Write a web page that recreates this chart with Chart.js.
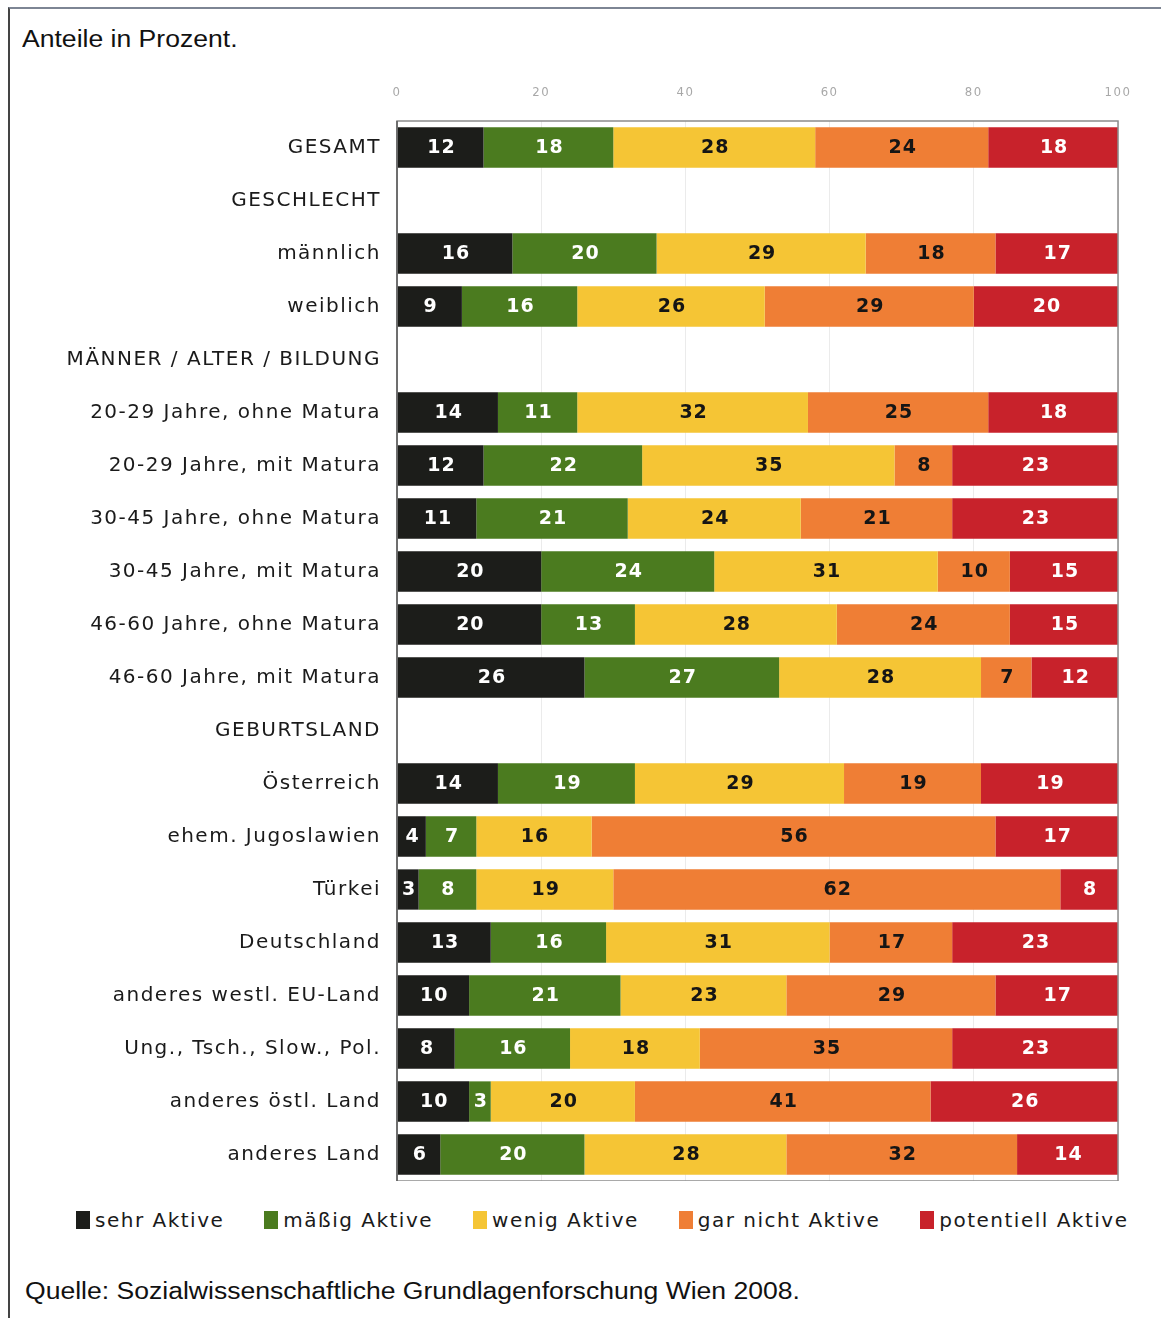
<!DOCTYPE html>
<html lang="de">
<head>
<meta charset="utf-8">
<title>Aktivitätsgruppen</title>
<script src="https://cdn.jsdelivr.net/npm/chart.js@4.4.1/dist/chart.umd.min.js"></script>
<style>
    html, body { margin: 0; padding: 0; background: #fff; }
    body {
        width: 1161px; height: 1318px;
        position: relative; overflow: hidden;
        font-family: "Liberation Sans", Arial, sans-serif;
        color: #111;
    }
    .frame {
        position: absolute; left: 8px; top: 7px; right: 0; bottom: 0;
        border-left: 2px solid #444;
        border-top: 2px solid #7d8594;
    }
    .note {
        position: absolute; font-size: 23.5px; white-space: nowrap;
        transform: scaleX(1.13); transform-origin: left center;
    }
    .title { left: 22px; top: 26px; }
    .source { left: 25px; top: 1278px; }
    .chart-box {
        position: absolute; left: 0; top: 71px;
        width: 1161px; height: 1110px;
    }
    .legend {
        position: absolute; left: 76px; top: 1208px;
        display: flex; align-items: center; gap: 40px;
        font-family: "DejaVu Sans", Verdana, sans-serif;
        font-size: 20px; letter-spacing: 1.5px; color: #1a1a1a;
    }
    .legend-item { display: flex; align-items: center; }
    .legend-box { width: 14px; height: 18px; margin-right: 5px; }
</style>
</head>
<body>
<div class="frame"></div>
<div class="note title">Anteile in Prozent.</div>

<div class="chart-box"><canvas id="activityChart"></canvas></div>

<div class="legend" id="legend"></div>
<div class="note source">Quelle: Sozialwissenschaftliche Grundlagenforschung Wien 2008.</div>

<script>
// ===== DATA =====
const categories = [
    'GESAMT',
    'GESCHLECHT',
    'männlich',
    'weiblich',
    'MÄNNER / ALTER / BILDUNG',
    '20-29 Jahre, ohne Matura',
    '20-29 Jahre, mit Matura',
    '30-45 Jahre, ohne Matura',
    '30-45 Jahre, mit Matura',
    '46-60 Jahre, ohne Matura',
    '46-60 Jahre, mit Matura',
    'GEBURTSLAND',
    'Österreich',
    'ehem. Jugoslawien',
    'Türkei',
    'Deutschland',
    'anderes westl. EU-Land',
    'Ung., Tsch., Slow., Pol.',
    'anderes östl. Land',
    'anderes Land'
];

const seriesNames = ['sehr Aktive', 'mäßig Aktive', 'wenig Aktive', 'gar nicht Aktive', 'potentiell Aktive'];

// header rows (GESCHLECHT, MÄNNER..., GEBURTSLAND) carry no bar
const sehrAktive       = [12, null, 16,  9, null, 14, 12, 11, 20, 20, 26, null, 14,  4,  3, 13, 10,  8, 10,  6];
const maessigAktive    = [18, null, 20, 16, null, 11, 22, 21, 24, 13, 27, null, 19,  7,  8, 16, 21, 16,  3, 20];
const wenigAktive      = [28, null, 29, 26, null, 32, 35, 24, 31, 28, 28, null, 29, 16, 19, 31, 23, 18, 20, 28];
const garNichtAktive   = [24, null, 18, 29, null, 25,  8, 21, 10, 24,  7, null, 19, 56, 62, 17, 29, 35, 41, 32];
const potentiellAktive = [18, null, 17, 20, null, 18, 23, 23, 15, 15, 12, null, 19, 17,  8, 23, 17, 23, 26, 14];

const xTicks = [0, 20, 40, 60, 80, 100];

const barColors   = ['#1c1d1a', '#4b7b1f', '#f5c535', '#ef7e35', '#c8222b'];
const labelColors = ['#ffffff', '#ffffff', '#151515', '#151515', '#ffffff'];

const series = [sehrAktive, maessigAktive, wenigAktive, garNichtAktive, potentiellAktive];

// ===== PLUGINS =====
// letter-spaced text like the original Verdana rendering
const spacing = {
    id: 'spacing',
    beforeDraw(chart) {
        chart.ctx.letterSpacing = '1.5px';
    }
};

// value inside every segment
const barLabels = {
    id: 'barLabels',
    afterDatasetsDraw(chart) {
        const ctx = chart.ctx;
        ctx.save();
        ctx.letterSpacing = '1px';
        ctx.font = 'bold 19px "DejaVu Sans", Verdana, sans-serif';
        ctx.textAlign = 'center';
        ctx.textBaseline = 'middle';
        chart.data.datasets.forEach((ds, i) => {
            chart.getDatasetMeta(i).data.forEach((bar, j) => {
                const v = ds.data[j];
                if (v == null) return;
                const { x, y, base } = bar.getProps(['x', 'y', 'base'], true);
                ctx.fillStyle = labelColors[i];
                ctx.fillText(String(v), (x + base) / 2 + 1, y + 1);
            });
        });
        ctx.restore();
    }
};

// grey frame around the plot area
const plotFrame = {
    id: 'plotFrame',
    afterDraw(chart) {
        const { ctx, chartArea: a } = chart;
        ctx.save();
        ctx.strokeStyle = '#8c8c8c';
        ctx.lineWidth = 1.5;
        ctx.strokeRect(a.left, a.top, a.right - a.left, a.bottom - a.top);
        ctx.strokeStyle = '#5c5c5c';
        ctx.beginPath();
        ctx.moveTo(a.left, a.top);
        ctx.lineTo(a.left, a.bottom);
        ctx.stroke();
        ctx.restore();
    }
};

// ===== CHART =====
const ctx = document.getElementById('activityChart').getContext('2d');

new Chart(ctx, {
    type: 'bar',
    data: {
        labels: categories,
        datasets: series.map((data, i) => ({
            label: seriesNames[i],
            data: data,
            backgroundColor: barColors[i],
            borderWidth: 0,
            barPercentage: 0.76,
            categoryPercentage: 1
        }))
    },
    options: {
        indexAxis: 'y',
        responsive: true,
        maintainAspectRatio: false,
        animation: false,
        layout: { padding: { left: 0, right: 43, top: 0, bottom: 0 } },
        plugins: {
            legend: { display: false },
            tooltip: { enabled: false }
        },
        scales: {
            x: {
                position: 'top',
                stacked: true,
                min: 0,
                max: 100,
                afterBuildTicks: scale => {
                    scale.ticks = xTicks.map(v => ({ value: v }));
                },
                afterFit: scale => {
                    scale.height = 50;
                    scale.paddingLeft = scale.paddingRight = 0;
                },
                grid: { color: '#ebebeb', lineWidth: 1, drawTicks: false },
                border: { display: false },
                ticks: {
                    color: '#a8a8a8',
                    padding: 21,
                    font: { family: '"DejaVu Sans Condensed", "DejaVu Sans", sans-serif', size: 13 }
                }
            },
            y: {
                stacked: true,
                afterFit: scale => {
                    scale.width = 397;
                    scale.paddingTop = scale.paddingBottom = 0;
                },
                grid: { display: false, drawTicks: false },
                border: { display: false },
                ticks: {
                    color: '#1a1a1a',
                    padding: 16,
                    autoSkip: false,
                    font: { family: '"DejaVu Sans", Verdana, sans-serif', size: 20 }
                }
            }
        }
    },
    plugins: [spacing, barLabels, plotFrame]
});

// ===== LEGEND =====
document.getElementById('legend').innerHTML = seriesNames.map((name, i) => `
    <div class="legend-item">
        <span class="legend-box" style="background:${barColors[i]}"></span>
        <span>${name}</span>
    </div>
`).join('');
</script>
</body>
</html>
